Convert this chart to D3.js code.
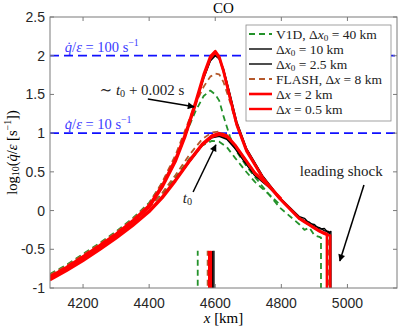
<!DOCTYPE html>
<html>
<head>
<meta charset="utf-8">
<script src="https://cdn.jsdelivr.net/npm/d3@7"></script>
<style>
  body { margin: 0; background: #fff; }
  svg { display: block; }
  .tick-label { font-family: "Liberation Sans", Arial, sans-serif; font-size: 14px; fill: #262626; }
  .tex { font-family: "Liberation Serif", "DejaVu Serif", serif; white-space: pre; }
</style>
</head>
<body>
<svg id="chart" width="399" height="328"></svg>
<script>
const xTicks = [4200, 4400, 4600, 4800, 5000];
const yTicks = [-1, -0.5, 0, 0.5, 1, 1.5, 2, 2.5];
const yTickLabels = ['-1', '-0.5', '0', '0.5', '1', '1.5', '2', '2.5'];

// legend order = draw order
const seriesNames = [
  'V1D, Δ*x*_0 = 40 km',
  'Δ*x*_0 = 10 km',
  'Δ*x*_0 = 2.5 km',
  'FLASH, Δ*x* = 8 km',
  'Δ*x* = 2 km',
  'Δ*x* = 0.5 km',
];
const seriesColors = ['#23922a', '#000000', '#000000', '#b5592c', '#ff0000', '#ff0000'];
const seriesDashed = [true, false, false, true, false, false];
const seriesWidths = [1.8, 1.4, 1.4, 1.8, 2.6, 2.4];

// profile at t0 + 0.002 s (upper peak)
const xLate = [4100, 4150, 4200, 4250, 4300, 4350, 4400, 4440, 4480, 4510, 4540, 4565, 4585, 4600, 4612, 4625, 4645, 4665, 4695, 4745, 4795, 4855, 4870, 4885, 4900, 4915, 4930, 4942];
const lateV1D = [-0.82, -0.70, -0.56, -0.42, -0.27, -0.10, 0.10, 0.36, 0.68, 0.98, 1.28, 1.48, 1.55, 1.50, 1.42, 1.22, 0.95, 0.76, 0.57, 0.30, 0.04, -0.18, -0.25, -0.22, -0.32, -0.34, -0.36, -0.37];
const late10 = [-0.86, -0.74, -0.60, -0.46, -0.31, -0.14, 0.05, 0.31, 0.64, 0.97, 1.36, 1.71, 1.93, 2.00, 1.96, 1.83, 1.50, 1.15, 0.80, 0.44, 0.17, -0.08, -0.10, -0.17, -0.18, -0.24, -0.23, -0.29];
const late25 = [-0.86, -0.74, -0.60, -0.46, -0.31, -0.14, 0.05, 0.31, 0.64, 0.97, 1.37, 1.72, 1.94, 2.01, 1.96, 1.82, 1.48, 1.13, 0.79, 0.43, 0.16, -0.09, -0.13, -0.15, -0.20, -0.22, -0.26, -0.27];
const lateFlash = [-0.83, -0.71, -0.57, -0.43, -0.28, -0.11, 0.09, 0.37, 0.72, 1.05, 1.38, 1.60, 1.73, 1.77, 1.76, 1.66, 1.40, 1.10, 0.77, 0.42, 0.16, -0.10, -0.14, -0.18, -0.22, -0.26, -0.29, -0.31];
const late2 = [-0.85, -0.73, -0.59, -0.45, -0.30, -0.13, 0.07, 0.33, 0.67, 1.00, 1.40, 1.76, 1.99, 2.06, 1.99, 1.81, 1.46, 1.12, 0.78, 0.42, 0.16, -0.10, -0.14, -0.18, -0.22, -0.26, -0.29, -0.31];
const late05 = [-0.87, -0.75, -0.61, -0.47, -0.32, -0.15, 0.04, 0.30, 0.63, 0.96, 1.36, 1.72, 1.96, 2.04, 1.97, 1.79, 1.44, 1.10, 0.76, 0.41, 0.15, -0.11, -0.15, -0.19, -0.23, -0.27, -0.30, -0.32];

// profile at t0 (lower peak)
const xEarly = [4100, 4150, 4200, 4250, 4300, 4350, 4400, 4440, 4480, 4520, 4560, 4590, 4612, 4635, 4660, 4690, 4720, 4760, 4800];
const earlyV1D = [-0.84, -0.72, -0.59, -0.45, -0.30, -0.14, 0.05, 0.22, 0.43, 0.66, 0.84, 0.90, 0.89, 0.82, 0.68, 0.52, 0.37, 0.22, 0.06];
const early10 = [-0.89, -0.77, -0.64, -0.50, -0.35, -0.19, -0.01, 0.17, 0.39, 0.62, 0.84, 0.94, 0.96, 0.92, 0.80, 0.62, 0.45, 0.31, 0.14];
const early25 = [-0.89, -0.77, -0.64, -0.50, -0.35, -0.19, -0.01, 0.17, 0.39, 0.62, 0.84, 0.95, 0.97, 0.93, 0.81, 0.63, 0.46, 0.31, 0.14];
const earlyFlash = [-0.85, -0.73, -0.60, -0.46, -0.31, -0.15, 0.04, 0.23, 0.46, 0.71, 0.92, 1.01, 1.02, 0.97, 0.84, 0.65, 0.47, 0.32, 0.14];
const early2 = [-0.88, -0.76, -0.63, -0.49, -0.34, -0.18, 0.00, 0.18, 0.40, 0.64, 0.86, 0.97, 1.00, 0.97, 0.85, 0.67, 0.49, 0.33, 0.15];
const early05 = [-0.90, -0.78, -0.65, -0.51, -0.36, -0.20, -0.02, 0.16, 0.38, 0.62, 0.84, 0.95, 0.98, 0.95, 0.84, 0.66, 0.48, 0.32, 0.14];

// leading shock position and value just behind it
const shockX = [4920, 4950, 4946, 4944, 4938, 4948];
const shockTop = [-0.35, -0.27, -0.28, -0.31, -0.30, -0.32];

// short vertical markers at the bottom
const markX = [4547, 4592, 4596, 4577, 4582, 4587];
const markTop = -0.52;

const lateValues = [lateV1D, late10, late25, lateFlash, late2, late05];
const earlyValues = [earlyV1D, early10, early25, earlyFlash, early2, early05];

const refLevels = [2, 1];
const refLabels = ['*q̇*/*ε* = 100 s^{−1}', '*q̇*/*ε* = 10 s^{−1}'];

const margin = { top: 17, right: 2, bottom: 40, left: 50 };
const width = 399, height = 328;

const svg = d3.select('#chart');

const x = d3.scaleLinear().domain([4100, 5150]).range([margin.left, width - margin.right]);
const y = d3.scaleLinear().domain([-1, 2.5]).range([height - margin.bottom, margin.top]);

// small tex-ish markup: *italic*, _sub, ^{sup}
function parseTex(str) {
  const segs = [];
  let italic = false;
  let i = 0;
  while (i < str.length) {
    const c = str[i];
    if (c === '*') { italic = !italic; i++; continue; }
    if (c === '_' || c === '^') {
      let body;
      if (str[i + 1] === '{') {
        const j = str.indexOf('}', i);
        body = str.slice(i + 2, j);
        i = j + 1;
      } else {
        body = str[i + 1];
        i += 2;
      }
      segs.push({ t: body, it: false, pos: c === '_' ? 'sub' : 'sup' });
      continue;
    }
    const last = segs[segs.length - 1];
    if (last && last.pos === '' && last.it === italic) last.t += c;
    else segs.push({ t: c, it: italic, pos: '' });
    i++;
  }
  return segs;
}

function texText(sel, str, size) {
  let cur = 0;
  sel.attr('class', 'tex').attr('font-size', size);
  parseTex(str).forEach((s) => {
    const off = s.pos === 'sub' ? size * 0.15 : s.pos === 'sup' ? -size * 0.4 : 0;
    sel.append('tspan')
      .attr('dy', off - cur)
      .attr('font-size', s.pos ? size * 0.68 : size)
      .attr('font-style', s.it ? 'italic' : 'normal')
      .text(s.t);
    cur = off;
  });
  return sel;
}

svg.append('defs').append('clipPath').attr('id', 'plot-clip')
  .append('rect')
    .attr('x', x.range()[0])
    .attr('y', y.range()[1])
    .attr('width', x.range()[1] - x.range()[0])
    .attr('height', y.range()[0] - y.range()[1]);

svg.select('defs').append('marker')
  .attr('id', 'arrow')
  .attr('viewBox', '0 0 10 10')
  .attr('refX', 9)
  .attr('refY', 5)
  .attr('markerUnits', 'userSpaceOnUse')
  .attr('markerWidth', 10)
  .attr('markerHeight', 7)
  .attr('orient', 'auto')
  .append('path')
    .attr('d', 'M0,0 L10,5 L0,10 Z')
    .attr('fill', '#000');

const plot = svg.append('g').attr('clip-path', 'url(#plot-clip)');

// reference levels
plot.selectAll('.ref')
  .data(refLevels)
  .join('line')
    .attr('class', 'ref')
    .attr('x1', x.range()[0])
    .attr('x2', x.range()[1])
    .attr('y1', (d) => y(d))
    .attr('y2', (d) => y(d))
    .attr('stroke', '#1010ff')
    .attr('stroke-width', 1.8)
    .attr('stroke-dasharray', '9 5');

const line = d3.line().x((d) => x(d[0])).y((d) => y(d[1]));

function lateProfile(i) {
  const pts = xLate.map((xv, k) => [xv, lateValues[i][k]]).filter((p) => p[0] < shockX[i]);
  pts.push([shockX[i], shockTop[i]], [shockX[i], -1.1]);
  return pts;
}

function earlyProfile(i) {
  return xEarly.map((xv, k) => [xv, earlyValues[i][k]]);
}

seriesNames.forEach((name, i) => {
  const g = plot.append('g')
    .attr('fill', 'none')
    .attr('stroke', seriesColors[i])
    .attr('stroke-width', seriesWidths[i])
    .attr('stroke-linejoin', 'round')
    .attr('stroke-dasharray', seriesDashed[i] ? '6 4' : null);

  g.append('path').attr('d', line(earlyProfile(i)));
  g.append('path').attr('d', line(lateProfile(i)));
  g.append('path').attr('d', line([[markX[i], -1.1], [markX[i], markTop]]));
});

// axes box and ticks
const axisColor = '#7a7a7a';
svg.append('rect')
  .attr('x', x.range()[0])
  .attr('y', y.range()[1])
  .attr('width', x.range()[1] - x.range()[0])
  .attr('height', y.range()[0] - y.range()[1])
  .attr('fill', 'none')
  .attr('stroke', axisColor)
  .attr('stroke-width', 1);

const tickLen = 4;
svg.append('g').selectAll('path')
  .data(xTicks)
  .join('path')
    .attr('d', (d) => `M${x(d)},${y.range()[0]}v${-tickLen}M${x(d)},${y.range()[1]}v${tickLen}`)
    .attr('stroke', axisColor);

svg.append('g').selectAll('path')
  .data(yTicks)
  .join('path')
    .attr('d', (d) => `M${x.range()[0]},${y(d)}h${tickLen}M${x.range()[1]},${y(d)}h${-tickLen}`)
    .attr('stroke', axisColor);

svg.append('g').selectAll('text')
  .data(xTicks)
  .join('text')
    .attr('class', 'tick-label')
    .attr('x', (d) => x(d))
    .attr('y', y.range()[0] + 20)
    .attr('text-anchor', 'middle')
    .text((d) => d);

svg.append('g').selectAll('text')
  .data(yTicks)
  .join('text')
    .attr('class', 'tick-label')
    .attr('x', x.range()[0] - 5)
    .attr('y', (d) => y(d) + 5)
    .attr('text-anchor', 'end')
    .text((d, i) => yTickLabels[i]);

// labels
texText(svg.append('text'), 'CO', 15)
  .attr('x', (x.range()[0] + x.range()[1]) / 2)
  .attr('y', 13)
  .attr('text-anchor', 'middle');

texText(svg.append('text'), '*x* [km]', 15)
  .attr('x', (x.range()[0] + x.range()[1]) / 2)
  .attr('y', 323)
  .attr('text-anchor', 'middle');

texText(svg.append('text'), 'log_{10}(*q̇*/*ε* [s^{−1}])', 14.5)
  .attr('text-anchor', 'middle')
  .attr('transform', `translate(17,${(y.range()[0] + y.range()[1]) / 2}) rotate(-90)`);

refLabels.forEach((lbl, i) => {
  texText(svg.append('text'), lbl, 14.5)
    .attr('x', x(4145))
    .attr('y', y(refLevels[i]) - 4)
    .attr('fill', '#3a3aff');
});

// annotations
const annotations = [
  { text: '∼ *t*_0 + 0.002 s', tx: 4250, ty: 1.49, from: [4396, 1.44], to: [4536, 1.34] },
  { text: '*t*_0', tx: 4502, ty: 0.10, from: [4533, 0.24], to: [4602, 0.85] },
  { text: 'leading shock', tx: 4856, ty: 0.45, from: [5050, 0.33], to: [4977, -0.65] },
];

annotations.forEach((a) => {
  texText(svg.append('text'), a.text, 15)
    .attr('x', x(a.tx))
    .attr('y', y(a.ty))
    .attr('fill', '#222');
  svg.append('line')
    .attr('x1', x(a.from[0])).attr('y1', y(a.from[1]))
    .attr('x2', x(a.to[0])).attr('y2', y(a.to[1]))
    .attr('stroke', '#000')
    .attr('stroke-width', 1.5)
    .attr('marker-end', 'url(#arrow)');
});

// legend
const legend = svg.append('g').attr('transform', 'translate(246,25)');
legend.append('rect')
  .attr('width', 145)
  .attr('height', 96)
  .attr('fill', '#fff')
  .attr('stroke', '#8a8a8a')
  .attr('stroke-width', 0.8);

seriesNames.forEach((name, i) => {
  const ry = 9 + i * 15;
  legend.append('line')
    .attr('x1', 3).attr('x2', 26)
    .attr('y1', ry).attr('y2', ry)
    .attr('stroke', seriesColors[i])
    .attr('stroke-width', seriesWidths[i])
    .attr('stroke-dasharray', seriesDashed[i] ? '6 4' : null);
  texText(legend.append('text'), name, 13.5)
    .attr('x', 30)
    .attr('y', ry + 4.5)
    .attr('fill', '#222');
});
</script>
</body>
</html>
